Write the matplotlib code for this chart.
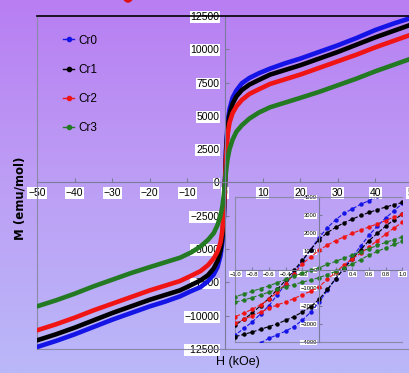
import matplotlib.pyplot as plt
import numpy as np
from matplotlib.lines import Line2D
from matplotlib.colors import LinearSegmentedColormap
from matplotlib.patches import Ellipse

# main M-H curves (kOe, emu/mol)
H = [-50, -45, -40, -35, -30, -25, -20, -16, -12, -9, -6.5, -4.5, -3, -2, -1.2, -0.7, -0.3,
     0, 0.3, 0.7, 1.2, 2, 3, 4.5, 6.5, 9, 12, 16, 20, 25, 30, 35, 40, 45, 50]
cr0 = [-12350, -11900, -11400, -10850, -10300, -9800, -9300, -8950, -8550, -8150, -7850, -7400, -6900, -6350, -5500, -4500, -2600,
       0, 2600, 4500, 5500, 6350, 6900, 7450, 7850, 8200, 8550, 8950, 9300, 9800, 10300, 10850, 11450, 11950, 12400]
cr1 = [-11850, -11400, -10900, -10350, -9800, -9300, -8800, -8450, -8100, -7700, -7350, -6950, -6450, -5900, -5100, -4100, -2400,
       0, 2400, 4100, 5100, 5900, 6450, 6950, 7350, 7700, 8100, 8450, 8800, 9300, 9800, 10350, 10900, 11400, 11900]
cr2 = [-11100, -10650, -10150, -9600, -9100, -8600, -8100, -7750, -7400, -7000, -6650, -6200, -5700, -5200, -4500, -3600, -2000,
       0, 2000, 3600, 4500, 5200, 5700, 6200, 6650, 7000, 7400, 7750, 8100, 8600, 9100, 9600, 10150, 10650, 11150]
cr3 = [-9300, -8850, -8350, -7800, -7300, -6800, -6350, -6000, -5650, -5250, -4800, -4300, -3800, -3200, -2500, -1800, -900,
       0, 900, 1800, 2500, 3200, 3800, 4300, 4800, 5250, 5650, 6000, 6350, 6800, 7300, 7800, 8350, 8850, 9350]

# inset low-field loops
h_full = [-1.0, -0.9, -0.8, -0.7, -0.6, -0.5, -0.4, -0.3, -0.2, -0.1, 0.0,
          0.1, 0.2, 0.3, 0.4, 0.5, 0.6, 0.7, 0.8, 0.9, 1.0]
h_blue_up = [-0.7, -0.6, -0.5, -0.4, -0.3, -0.2, -0.1, 0.0, 0.1, 0.2, 0.3, 0.4, 0.5, 0.6, 0.7, 0.8, 0.9, 1.0]
h_blue_dn = [0.7, 0.6, 0.5, 0.4, 0.3, 0.2, 0.1, 0.0, -0.1, -0.2, -0.3, -0.4, -0.5, -0.6, -0.7, -0.8, -0.9, -1.0]
h_dn = [1.0, 0.9, 0.8, 0.7, 0.6, 0.5, 0.4, 0.3, 0.2, 0.1, 0.0,
        -0.1, -0.2, -0.3, -0.4, -0.5, -0.6, -0.7, -0.8, -0.9, -1.0]

cr0_up = [-4050, -3800, -3600, -3400, -3150, -2800, -2350, -1800, -1150, -500, 100, 700, 1300, 1900, 2400, 2850, 3250, 3650]
cr0_dn = [4050, 3800, 3600, 3350, 3100, 2750, 2300, 1750, 1100, 450, -200, -800, -1400, -2000, -2450, -2900, -3250, -3600]
cr1_up = [-3700, -3580, -3450, -3300, -3150, -3000, -2800, -2600, -2350, -2050, -1650,
          -1100, -500, 50, 600, 1100, 1600, 2000, 2400, 2750, 3050]
cr1_dn = [3700, 3580, 3450, 3300, 3150, 2980, 2780, 2580, 2330, 2030, 1650,
          1100, 500, -50, -600, -1100, -1600, -2000, -2400, -2750, -3050]
cr2_up = [-2950, -2750, -2550, -2350, -2150, -1950, -1800, -1600, -1400, -1200, -950,
          -550, -150, 250, 600, 900, 1250, 1600, 1950, 2300, 2600]
cr2_dn = [3050, 2900, 2700, 2520, 2350, 2180, 2000, 1800, 1600, 1350, 1050,
          700, 300, -250, -800, -1250, -1650, -1950, -2200, -2400, -2600]
cr3_up = [-1800, -1680, -1550, -1400, -1250, -1100, -950, -830, -700, -580, -450,
          -280, -100, 100, 300, 550, 800, 1000, 1200, 1380, 1550]
cr3_dn = [1800, 1650, 1500, 1330, 1150, 980, 800, 630, 450, 280, 100,
          -50, -200, -380, -550, -730, -900, -1050, -1200, -1350, -1500]

labels = ["Cr0", "Cr1", "Cr2", "Cr3"]
colors = ["#1414e6", "#000000", "#f01414", "#237a23"]

narrow = ["Liberation Sans", "DejaVu Sans"]
box = dict(facecolor="white", edgecolor="none", pad=0.6)

fig = plt.figure(figsize=(4.09, 3.73), dpi=100)

# background gradient
bg = fig.add_axes([0, 0, 1, 1], zorder=-10)
bg.axis("off")
cmap = LinearSegmentedColormap.from_list("bg", ["#b87ef2", "#bd9ff5", "#bab8f9"])
bg.imshow(np.linspace(0, 1, 256).reshape(-1, 1), aspect="auto", cmap=cmap, extent=[0, 1, 0, 1])
fig.patches.append(Ellipse((128 / 409, 1.012), 0.024, 0.035, color="#e01010", transform=fig.transFigure))


def cross_axes(ax, ticklen):
    ax.set_facecolor("none")
    ax.set_axisbelow(True)
    ax.spines["left"].set_position(("data", 0))
    ax.spines["bottom"].set_position(("data", 0))
    ax.spines["right"].set_visible(False)
    for s in ["left", "bottom"]:
        ax.spines[s].set_color("#7a7a9a")
        ax.spines[s].set_linewidth(0.8)
    ax.plot([0, 0], [0, 1], transform=ax.transAxes, color="#8a8aa8", lw=0.8, clip_on=False)
    ax.plot([0, 1], [0, 0], transform=ax.transAxes, color="#8a8aa8", lw=0.8, clip_on=False)
    ax.tick_params(direction="in", length=ticklen, color="#7a7a9a")


# main plot
ax = fig.add_axes([37 / 409, 24 / 373, 376 / 409, 333 / 373])
cross_axes(ax, 3)
ax.spines["top"].set_color("black")
ax.spines["top"].set_linewidth(1.2)
for m, c in zip([cr0, cr1, cr2, cr3], colors):
    ax.plot(H, m, color=c, lw=3.3, solid_capstyle="round")
ax.set_xlim(-50, 50)
ax.set_ylim(-12500, 12500)
ax.set_xticks(range(-50, 51, 10))
ax.set_yticks(range(-12500, 12501, 2500))
ax.tick_params(axis="x", pad=4)
ax.tick_params(axis="y", pad=4)
for t in ax.get_xticklabels() + ax.get_yticklabels():
    t.set_family(narrow)
    t.set_fontsize(7.5)
    t.set_bbox(box)

fig.text(20 / 409, 1 - 198 / 373, "M (emu/mol)", rotation=90, ha="center", va="center",
         fontsize=8.5, fontweight="bold")
fig.text(238 / 409, 1 - 362 / 373, "H (kOe)", ha="center", va="center",
         fontsize=9, family=["Liberation Sans", "DejaVu Sans"])

handles = [Line2D([], [], color=c, lw=1, marker="o", ms=3) for c in colors]
fig.legend(handles, labels, loc="upper left", bbox_to_anchor=(52 / 409, 1 - 24 / 373),
           frameon=False, handlelength=1.0, handletextpad=0.3, labelspacing=1.45,
           prop={"family": narrow, "size": 8.5})

# inset
ins = fig.add_axes([235.5 / 409, 31 / 373, 167 / 409, 145 / 373])
cross_axes(ins, 2)
ins.spines["top"].set_color("#8a8aa8")
ins.spines["top"].set_linewidth(0.8)
loops = [(h_blue_up, cr0_up, h_blue_dn, cr0_dn), (h_full, cr1_up, h_dn, cr1_dn),
         (h_full, cr2_up, h_dn, cr2_dn), (h_full, cr3_up, h_dn, cr3_dn)]
for (hu, mu, hd, md), c in zip(loops, colors):
    ins.plot(hu, mu, color=c, ls="--", lw=0.8, marker="o", ms=2.2)
    ins.plot(hd, md, color=c, ls="--", lw=0.8, marker="o", ms=2.2)
ins.set_xlim(-1.0, 1.0)
ins.set_ylim(-4000, 4000)
ins.set_xticks([-1.0, -0.8, -0.6, -0.4, -0.2, 0.2, 0.4, 0.6, 0.8, 1.0])
ins.set_yticks(range(-4000, 4001, 1000))
ins.tick_params(axis="both", pad=1.5)
for t in ins.get_xticklabels() + ins.get_yticklabels():
    t.set_family(narrow)
    t.set_fontsize(4.2)
    t.set_bbox(dict(facecolor="white", edgecolor="none", pad=0.3))

fig.savefig("out.png", dpi=100)
